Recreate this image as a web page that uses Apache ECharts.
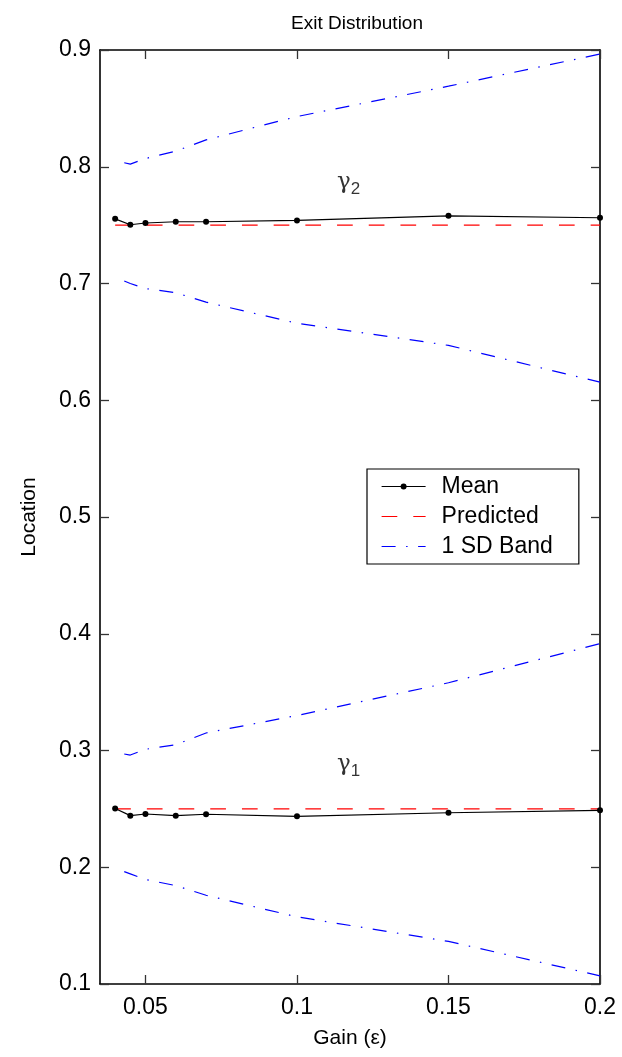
<!DOCTYPE html>
<html>
<head>
<meta charset="utf-8">
<script src="https://cdn.jsdelivr.net/npm/echarts@6/dist/echarts.min.js"></script>
<style>html,body{margin:0;padding:0;background:#fff}#c{width:622px;height:1057px}</style>
</head>
<body>
<div id="c"></div>
<script>
// ---- data ----
const gains = [0.04, 0.045, 0.05, 0.06, 0.07, 0.1, 0.15, 0.2];
const meanG2 = [0.7554, 0.7503, 0.7518, 0.7529, 0.7529, 0.7540, 0.7580, 0.7563];
const meanG1 = [0.2503, 0.2442, 0.2456, 0.2442, 0.2454, 0.2436, 0.2467, 0.2488];
const predG2 = [0.75, 0.75, 0.75, 0.75, 0.75, 0.75, 0.75, 0.75];
const predG1 = [0.25, 0.25, 0.25, 0.25, 0.25, 0.25, 0.25, 0.25];
const bandGains = [0.043, 0.045, 0.05, 0.06, 0.07, 0.1, 0.15, 0.2];
const upperG2 = [0.8034, 0.8023, 0.8070, 0.8134, 0.8230, 0.8430, 0.8690, 0.8965];
const lowerG2 = [0.7021, 0.7000, 0.6957, 0.6921, 0.6840, 0.6660, 0.6470, 0.6155];
const upperG1 = [0.2970, 0.2961, 0.3010, 0.3050, 0.3150, 0.3300, 0.3580, 0.3915];
const lowerG1 = [0.1962, 0.1943, 0.1895, 0.1843, 0.1760, 0.1575, 0.1365, 0.1070];
const xTicks = [0.05, 0.1, 0.15, 0.2];
const yTicks = [0.1, 0.2, 0.3, 0.4, 0.5, 0.6, 0.7, 0.8, 0.9];
const gammaLabels = [{x: 0.117, y: 0.787, sub: '2'}, {x: 0.117, y: 0.288, sub: '1'}];
const legendNames = ['Mean', 'Predicted', '1 SD Band'];

const zip = (xs, ys) => xs.map((x, i) => [x, ys[i]]);
const FONT = '"Liberation Sans", Arial, sans-serif';

const meanStyle = {type: 'line', name: 'Mean', symbol: 'circle', symbolSize: 6,
  itemStyle: {color: '#000'}, lineStyle: {color: '#000', width: 1.2}, z: 5};
const predStyle = {type: 'line', name: 'Predicted', symbol: 'none',
  lineStyle: {color: '#ff0000', width: 1.2, type: [15.7, 16]}, itemStyle: {color: '#ff0000'}, z: 4};
const bandStyle = {type: 'line', name: '1 SD Band', symbol: 'none',
  lineStyle: {color: '#0000ff', width: 1.2, type: [14, 10.5, 1.5, 10.5]}, itemStyle: {color: '#0000ff'}, z: 3};

const axisCommon = {
  axisLine: {show: true, onZero: false, lineStyle: {color: '#000', width: 1.6}},
  axisTick: {show: true, inside: true, length: 9, lineStyle: {color: '#333', width: 1.3}},
  splitLine: {show: false}
};

const option = {
  animation: false,
  backgroundColor: '#fff',
  title: {text: 'Exit Distribution', left: 352, textAlign: 'center', top: 9,
    textStyle: {fontFamily: FONT, fontSize: 19, fontWeight: 'normal', color: '#000'}},
  grid: {left: 100, right: 22, top: 50, bottom: 73},
  legend: {
    data: [
      {name: legendNames[0]},
      {name: legendNames[1], itemStyle: {opacity: 0}},
      {name: legendNames[2], itemStyle: {opacity: 0}}
    ],
    orient: 'vertical', left: 367, top: 469,
    itemWidth: 44, itemHeight: 7.5, itemGap: 7,
    padding: [6, 26, 6, 14],
    borderColor: '#000', borderWidth: 1.2, backgroundColor: '#fff',
    lineStyle: {width: 1.2},
    textStyle: {fontFamily: FONT, fontSize: 23, color: '#000', lineHeight: 23, padding: [0, 0, 0, 11]},
    selectedMode: false
  },
  xAxis: [
    Object.assign({type: 'value', min: 0.035, max: 0.2, position: 'bottom',
      name: 'Gain (ε)', nameLocation: 'middle', nameGap: 44,
      nameTextStyle: {fontFamily: FONT, fontSize: 21, color: '#000'},
      axisLabel: {customValues: xTicks, margin: 12, fontFamily: FONT, fontSize: 23, color: '#000',
        formatter: v => String(+v.toFixed(3))}}, axisCommon,
      {axisTick: Object.assign({}, axisCommon.axisTick, {customValues: xTicks})}),
    Object.assign({type: 'value', min: 0.035, max: 0.2, position: 'top',
      axisLabel: {show: false}}, axisCommon,
      {axisTick: Object.assign({}, axisCommon.axisTick, {customValues: xTicks})})
  ],
  yAxis: [
    Object.assign({type: 'value', min: 0.1, max: 0.9, interval: 0.1, position: 'left',
      name: 'Location', nameLocation: 'middle', nameGap: 60,
      nameTextStyle: {fontFamily: FONT, fontSize: 21, color: '#000'},
      axisLabel: {customValues: yTicks, margin: 9, fontFamily: FONT, fontSize: 23, color: '#000',
        formatter: v => String(+v.toFixed(2))}}, axisCommon,
      {axisTick: Object.assign({}, axisCommon.axisTick, {customValues: yTicks})}),
    Object.assign({type: 'value', min: 0.1, max: 0.9, interval: 0.1, position: 'right',
      axisLabel: {show: false}}, axisCommon,
      {axisTick: Object.assign({}, axisCommon.axisTick, {customValues: yTicks})})
  ],
  series: [
    Object.assign({}, bandStyle, {data: zip(bandGains, upperG2)}),
    Object.assign({}, bandStyle, {data: zip(bandGains, lowerG2)}),
    Object.assign({}, bandStyle, {data: zip(bandGains, upperG1)}),
    Object.assign({}, bandStyle, {data: zip(bandGains, lowerG1)}),
    Object.assign({}, predStyle, {data: zip(gains, predG2)}),
    Object.assign({}, predStyle, {data: zip(gains, predG1)}),
    Object.assign({}, meanStyle, {data: zip(gains, meanG2)}),
    Object.assign({}, meanStyle, {data: zip(gains, meanG1)}),
    {type: 'scatter', name: 'gamma', symbolSize: 0, silent: true,
     data: gammaLabels.map(g => ({value: [g.x, g.y], sub: g.sub})),
     label: {show: true, position: 'inside',
       formatter: p => '{g|γ}{s|' + p.data.sub + '}',
       rich: {g: {fontFamily: '"DejaVu Serif", serif', fontSize: 23, color: '#000'},
              s: {fontFamily: FONT, fontSize: 17, color: '#000', padding: [14, 0, 0, 0]}}}}
  ]
};
const chart = echarts.init(document.getElementById('c'), null, {renderer: 'canvas'});
chart.setOption(option);
</script>
</body>
</html>
